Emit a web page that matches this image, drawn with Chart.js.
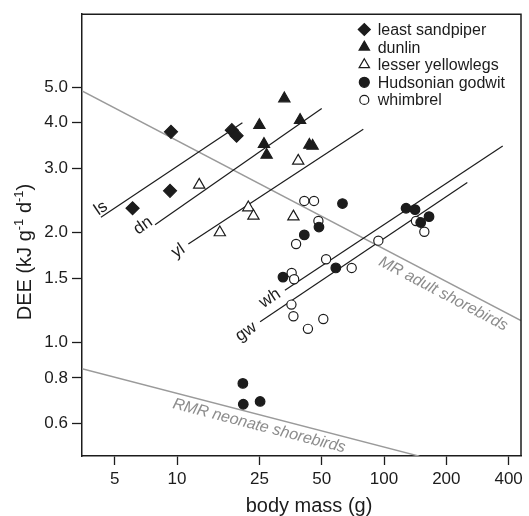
<!DOCTYPE html>
<html>
<head>
<meta charset="utf-8">
<script src="https://cdn.jsdelivr.net/npm/chart.js@4.4.1/dist/chart.umd.min.js"></script>
<style>
  html, body { margin: 0; padding: 0; background: #fff; }
  #wrap { position: relative; width: 529px; height: 516px; }
</style>
</head>
<body>
<div id="wrap"><canvas id="chart"></canvas></div>
<script>
// DEE vs body mass, log-log
var xTicks = [5, 10, 25, 50, 100, 200, 400];
var yTicks = [0.6, 0.8, 1.0, 1.5, 2.0, 3.0, 4.0, 5.0];

var speciesNames = ["least sandpiper", "dunlin", "lesser yellowlegs", "Hudsonian godwit", "whimbrel"];

var lsMass = [6.1, 9.25, 9.35, 18.4, 19.4];
var lsDee  = [2.33, 2.60, 3.77, 3.81, 3.68];
var dnMass = [33.0, 25.0, 39.3, 26.3, 27.1, 43.6, 45.2];
var dnDee  = [4.65, 3.93, 4.06, 3.49, 3.26, 3.47, 3.45];
var ylMass = [12.8, 38.5, 22.1, 23.4, 16.1, 36.5];
var ylDee  = [2.70, 3.14, 2.34, 2.22, 2.00, 2.21];
var gwMass = [63.0, 48.5, 41.2, 32.5, 58.5, 127.8, 141.2, 165, 150.4, 20.8, 20.9, 25.2];
var gwDee  = [2.40, 2.07, 1.97, 1.51, 1.60, 2.33, 2.31, 2.21, 2.13, 0.773, 0.678, 0.690];
var whMass = [41.2, 45.9, 48.2, 37.6, 52.5, 69.8, 35.8, 36.8, 35.7, 36.5, 42.9, 50.9, 93.9, 142.7, 156.6];
var whDee  = [2.44, 2.44, 2.15, 1.86, 1.69, 1.60, 1.55, 1.49, 1.27, 1.18, 1.09, 1.16, 1.90, 2.15, 2.01];

// fitted lines per species (end points)
var fitNames = ["ls", "dn", "yl", "wh", "gw"];
var fitMass = [[4.29, 20.7], [7.83, 50.0], [11.34, 79.4], [33.2, 374.5], [25.2, 252.6]];
var fitDee  = [[2.20, 3.99], [2.10, 4.37], [1.86, 3.83], [1.39, 3.45], [1.14, 2.74]];

// reference allometries
var refNames = ["MR adult shorebirds", "RMR neonate shorebirds"];
var refMass = [[3.475, 459], [3.475, 148]];
var refDee  = [[4.88, 1.149], [0.848, 0.489]];

var speciesMass = [lsMass, dnMass, ylMass, gwMass, whMass];
var speciesDee  = [lsDee, dnDee, ylDee, gwDee, whDee];

var INK = "#1c1c1c";
var GREY = "#9a9a9a";

var markers = [
  { style: "rectRot",  r: 6.5, fill: INK },
  { style: "triangle", r: 6.5, fill: INK },
  { style: "triangle", r: 6.5, fill: "#fff" },
  { style: "circle",   r: 4.8, fill: INK },
  { style: "circle",   r: 4.6, fill: "#fff" }
];
var legendMarkers = [6, 6, 6, 5, 4.5];

// where the small labels sit relative to each line's start (px)
var fitLabelOffset = { ls: [0, -9], dn: [-12, 1], yl: [-10, 7], wh: [-15, 8], gw: [-14, 10] };
var refLabelAt = [{ mass: 206, perp: 12.5 }, { mass: 25.7, perp: 11 }];

function pts(xs, ys) {
  return xs.map(function (x, i) { return { x: x, y: ys[i] }; });
}

Chart.defaults.font.family = "'Liberation Sans', Arial, sans-serif";
Chart.defaults.color = INK;

var datasets = [];
speciesNames.forEach(function (name, i) {
  var m = markers[i];
  datasets.push({
    label: name,
    data: pts(speciesMass[i], speciesDee[i]),
    showLine: false,
    pointStyle: m.style,
    pointRadius: m.r,
    pointBackgroundColor: m.fill,
    pointBorderColor: INK,
    pointBorderWidth: 1.2,
    order: 0
  });
});
fitNames.forEach(function (name, i) {
  datasets.push({
    label: name,
    data: pts(fitMass[i], fitDee[i]),
    showLine: true,
    borderColor: INK,
    borderWidth: 1.2,
    pointRadius: 0,
    order: 1
  });
});
refNames.forEach(function (name, i) {
  datasets.push({
    label: name,
    data: pts(refMass[i], refDee[i]),
    showLine: true,
    borderColor: GREY,
    borderWidth: 1.5,
    pointRadius: 0,
    order: 2
  });
});

function linePx(chart, mass, dee) {
  var xs = chart.scales.x, ys = chart.scales.y;
  return [
    [xs.getPixelForValue(mass[0]), ys.getPixelForValue(dee[0])],
    [xs.getPixelForValue(mass[1]), ys.getPixelForValue(dee[1])]
  ];
}

var extras = {
  id: "extras",
  afterDraw: function (chart) {
    var ctx = chart.ctx, a = chart.chartArea;
    ctx.save();

    // closing frame (top, right)
    ctx.strokeStyle = INK;
    ctx.lineWidth = 1.5;
    ctx.beginPath();
    ctx.moveTo(a.left, a.top);
    ctx.lineTo(a.right, a.top);
    ctx.lineTo(a.right, a.bottom);
    ctx.stroke();

    // labels on the fitted lines
    ctx.fillStyle = INK;
    ctx.font = "17px 'Liberation Sans', Arial, sans-serif";
    ctx.textAlign = "center";
    ctx.textBaseline = "middle";
    fitNames.forEach(function (name, i) {
      var p = linePx(chart, fitMass[i], fitDee[i]);
      var ang = Math.atan2(p[1][1] - p[0][1], p[1][0] - p[0][0]);
      var off = fitLabelOffset[name];
      ctx.save();
      ctx.translate(p[0][0] + off[0], p[0][1] + off[1]);
      ctx.rotate(ang);
      ctx.fillText(name, 0, 0);
      ctx.restore();
    });

    // grey reference labels
    ctx.fillStyle = "#8c8c8c";
    ctx.font = "italic 16px 'Liberation Sans', Arial, sans-serif";
    refNames.forEach(function (name, i) {
      var p = linePx(chart, refMass[i], refDee[i]);
      var ang = Math.atan2(p[1][1] - p[0][1], p[1][0] - p[0][0]);
      var px = chart.scales.x.getPixelForValue(refLabelAt[i].mass);
      var f = (px - p[0][0]) / (p[1][0] - p[0][0]);
      var py = p[0][1] + f * (p[1][1] - p[0][1]);
      ctx.save();
      ctx.translate(px, py);
      ctx.rotate(ang);
      ctx.fillText(name, 0, refLabelAt[i].perp);
      ctx.restore();
    });

    // legend, top right inside the plot
    ctx.font = "16px 'Liberation Sans', Arial, sans-serif";
    ctx.textAlign = "left";
    speciesNames.forEach(function (name, i) {
      var y = 29.5 + i * 17.6;
      ctx.fillStyle = markers[i].fill;
      ctx.strokeStyle = INK;
      ctx.lineWidth = 1.2;
      Chart.helpers.drawPoint(ctx, { pointStyle: markers[i].style, radius: legendMarkers[i], rotation: 0, borderWidth: 1.2 }, 364.3, y);
      ctx.fillStyle = INK;
      ctx.fillText(name, 377.7, y + 1);
    });

    // axis titles
    ctx.font = "20px 'Liberation Sans', Arial, sans-serif";
    ctx.textAlign = "center";
    ctx.fillText("body mass (g)", 309, 506);

    var big = "20px 'Liberation Sans', Arial, sans-serif";
    var small = "13px 'Liberation Sans', Arial, sans-serif";
    var parts = [["DEE (kJ g", false], ["-1", true], [" d", false], ["-1", true], [")", false]];
    var total = 0;
    parts.forEach(function (pt) { ctx.font = pt[1] ? small : big; total += ctx.measureText(pt[0]).width; });
    ctx.save();
    ctx.translate(24, 252);
    ctx.rotate(-Math.PI / 2);
    ctx.textAlign = "left";
    ctx.textBaseline = "alphabetic";
    var x0 = -total / 2;
    parts.forEach(function (pt) {
      ctx.font = pt[1] ? small : big;
      ctx.fillText(pt[0], x0, pt[1] ? -1 : 7);
      x0 += ctx.measureText(pt[0]).width;
    });
    ctx.restore();

    ctx.restore();
  }
};

new Chart(document.getElementById("chart"), {
  type: "scatter",
  data: { datasets: datasets },
  options: {
    responsive: true,
    maintainAspectRatio: false,
    animation: false,
    events: [],
    layout: { padding: { top: 7, right: 8, left: 0, bottom: 0 } },
    plugins: { legend: { display: false }, tooltip: { enabled: false } },
    scales: {
      x: {
        type: "logarithmic",
        min: 3.475, max: 459,
        bounds: "data",
        afterBuildTicks: function (s) { s.ticks = xTicks.map(function (v) { return { value: v }; }); },
        afterFit: function (s) { s.height = 60; },
        ticks: { autoSkip: false, maxRotation: 0, padding: 4, color: INK, font: { size: 17 },
                 callback: function (v) { return String(v); } },
        grid: { display: true, drawOnChartArea: false, drawTicks: true, tickLength: 9, tickWidth: 1.3, tickColor: INK },
        border: { display: true, color: INK, width: 1.5 }
      },
      y: {
        type: "logarithmic",
        min: 0.4894, max: 7.91,
        bounds: "data",
        afterBuildTicks: function (s) { s.ticks = yTicks.map(function (v) { return { value: v }; }); },
        afterFit: function (s) { s.width = 82; },
        ticks: { autoSkip: false, padding: 4, color: INK, font: { size: 17 },
                 callback: function (v) { return Number(v).toFixed(1); } },
        grid: { display: true, drawOnChartArea: false, drawTicks: true, tickLength: 10, tickWidth: 1.3, tickColor: INK },
        border: { display: true, color: INK, width: 1.5 }
      }
    }
  },
  plugins: [extras]
});
</script>
</body>
</html>
